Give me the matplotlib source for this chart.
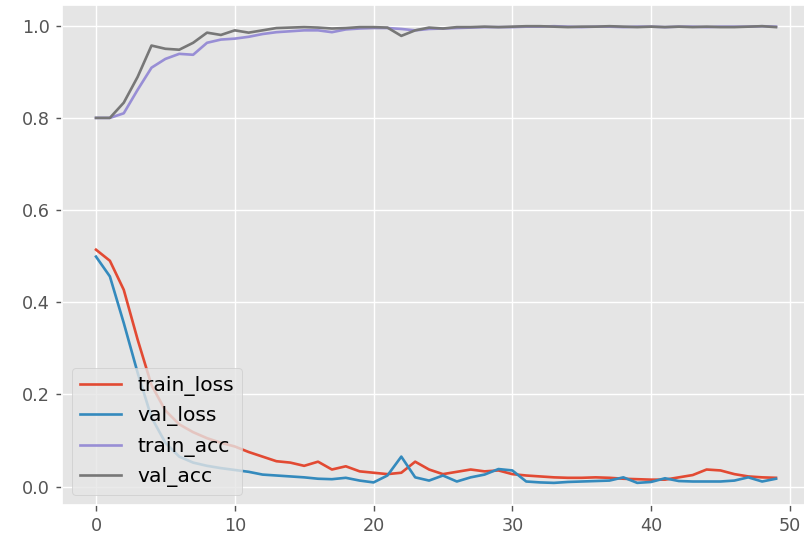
import matplotlib
matplotlib.use("Agg")
import matplotlib.pyplot as plt
import numpy as np

plt.style.use("ggplot")

epochs = list(range(50))

train_loss = [0.514, 0.490, 0.427, 0.319, 0.220, 0.165, 0.135, 0.118, 0.105, 0.095,
              0.087, 0.075, 0.065, 0.055, 0.052, 0.045, 0.054, 0.037, 0.044, 0.033,
              0.030, 0.027, 0.030, 0.054, 0.037, 0.027, 0.032, 0.037, 0.033, 0.035,
              0.027, 0.024, 0.022, 0.020, 0.019, 0.019, 0.020, 0.019, 0.017, 0.016,
              0.015, 0.015, 0.020, 0.025, 0.037, 0.035, 0.027, 0.022, 0.020, 0.019]

val_loss = [0.499, 0.456, 0.355, 0.247, 0.150, 0.095, 0.065, 0.052, 0.045, 0.040,
            0.036, 0.032, 0.026, 0.024, 0.022, 0.020, 0.017, 0.016, 0.019, 0.013,
            0.009, 0.024, 0.065, 0.020, 0.013, 0.024, 0.011, 0.020, 0.026, 0.038,
            0.035, 0.011, 0.009, 0.008, 0.010, 0.011, 0.012, 0.013, 0.020, 0.008,
            0.010, 0.018, 0.012, 0.011, 0.011, 0.011, 0.013, 0.020, 0.011, 0.017]

train_acc = [0.800, 0.800, 0.810, 0.861, 0.909, 0.928, 0.939, 0.937, 0.963, 0.970,
             0.972, 0.976, 0.982, 0.986, 0.988, 0.990, 0.990, 0.986, 0.992, 0.994,
             0.995, 0.995, 0.993, 0.990, 0.993, 0.994, 0.995, 0.996, 0.997, 0.997,
             0.997, 0.998, 0.998, 0.999, 0.998, 0.997, 0.998, 0.998, 0.997, 0.998,
             0.998, 0.997, 0.998, 0.998, 0.997, 0.998, 0.998, 0.998, 0.999, 0.998]

val_acc = [0.800, 0.800, 0.833, 0.889, 0.957, 0.950, 0.948, 0.963, 0.985, 0.980,
           0.990, 0.985, 0.990, 0.995, 0.996, 0.997, 0.996, 0.994, 0.995, 0.997,
           0.997, 0.996, 0.978, 0.990, 0.996, 0.994, 0.997, 0.997, 0.998, 0.997,
           0.998, 0.999, 0.999, 0.998, 0.997, 0.998, 0.998, 0.999, 0.998, 0.997,
           0.998, 0.997, 0.998, 0.997, 0.998, 0.997, 0.997, 0.998, 0.999, 0.997]

dpi = 127
fig = plt.figure(figsize=(804 / dpi, 540 / dpi), dpi=dpi)
ax = fig.add_axes([62 / 804, 35 / 540, 748 / 804, 500 / 540])

ax.plot(epochs, train_loss, label="train_loss")
ax.plot(epochs, val_loss, label="val_loss")
ax.plot(epochs, train_acc, label="train_acc")
ax.plot(epochs, val_acc, label="val_acc")

ax.set_ylim(-0.04, 1.045)
ax.set_xticks([0, 10, 20, 30, 40, 50])
ax.set_yticks([0.0, 0.2, 0.4, 0.6, 0.8, 1.0])
ax.tick_params(labelsize=10)
ax.legend(loc="lower left", fontsize=11.5)

fig.savefig("out.png", dpi=dpi)
